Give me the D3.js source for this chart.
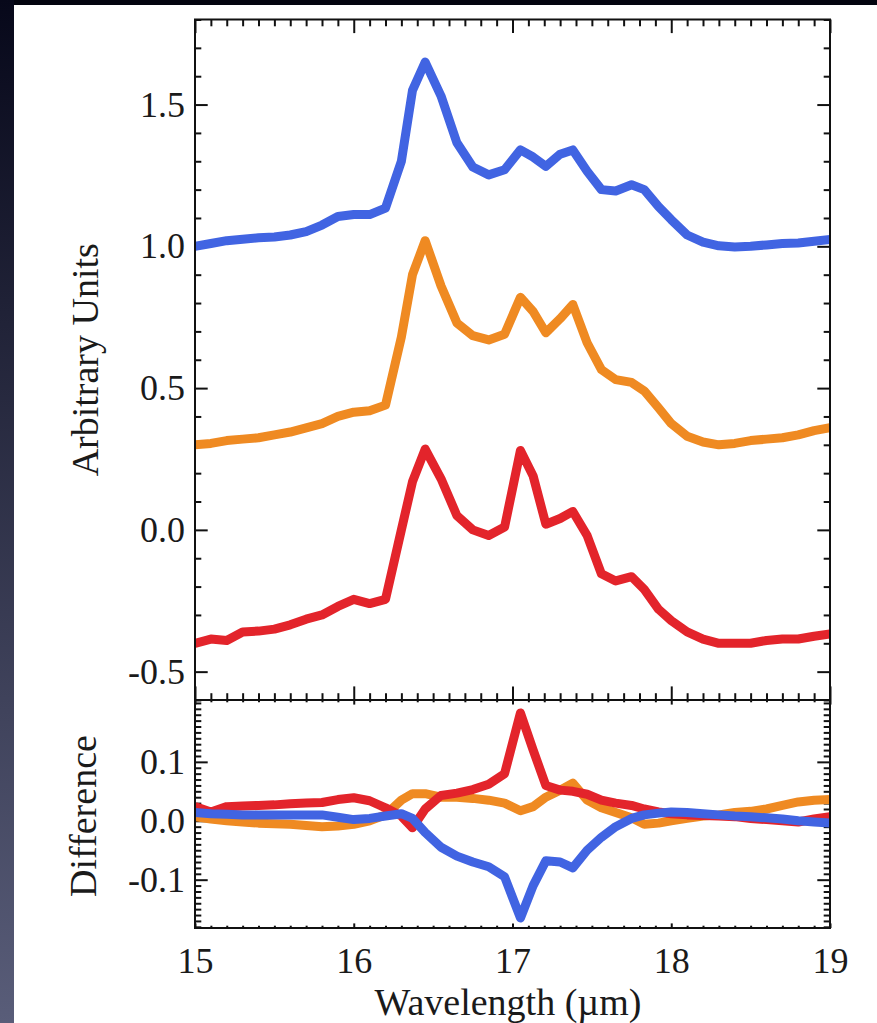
<!DOCTYPE html>
<html>
<head>
<meta charset="utf-8">
<script src="https://cdn.jsdelivr.net/npm/d3@7.9.0/dist/d3.min.js"></script>
<style>
  body { margin: 0; background: #03040f; }
  svg { display: block; }
  text { font-family: "Liberation Serif", "DejaVu Serif", serif; fill: #1a1a1a; }
</style>
</head>
<body>
<svg id="chart" width="877" height="1023"></svg>
<script>
// wavelength grid (micron) shared by every curve
const wavelength = [15.0, 15.1, 15.2, 15.3, 15.4, 15.5, 15.6, 15.7, 15.8, 15.9,
  16.0, 16.1, 16.2, 16.3, 16.37, 16.45, 16.55, 16.65, 16.75, 16.85, 16.95,
  17.05, 17.13, 17.21, 17.3, 17.38, 17.47, 17.56, 17.65, 17.75, 17.83, 17.92,
  18.0, 18.1, 18.2, 18.3, 18.4, 18.5, 18.6, 18.7, 18.8, 18.9, 19.0];

// top panel spectra (offset)
const blueSpec = [1.00, 1.01, 1.02, 1.025, 1.03, 1.033, 1.04, 1.052, 1.075, 1.105,
  1.112, 1.112, 1.135, 1.30, 1.55, 1.65, 1.53, 1.365, 1.28, 1.252, 1.27,
  1.34, 1.315, 1.282, 1.325, 1.34, 1.265, 1.20, 1.195, 1.217, 1.20, 1.14,
  1.094, 1.04, 1.015, 1.002, 0.998, 1.0, 1.005, 1.01, 1.012, 1.018, 1.024];
const orangeSpec = [0.30, 0.305, 0.315, 0.32, 0.325, 0.335, 0.345, 0.36, 0.375, 0.40,
  0.415, 0.42, 0.44, 0.68, 0.90, 1.02, 0.86, 0.73, 0.685, 0.67, 0.69,
  0.82, 0.77, 0.695, 0.745, 0.795, 0.66, 0.565, 0.53, 0.52, 0.49, 0.43,
  0.375, 0.33, 0.31, 0.30, 0.305, 0.315, 0.32, 0.325, 0.335, 0.35, 0.36];
const redSpec = [-0.40, -0.385, -0.39, -0.36, -0.357, -0.35, -0.335, -0.315, -0.30, -0.27,
  -0.245, -0.26, -0.245, 0.0, 0.17, 0.285, 0.18, 0.05, 0.0, -0.02, 0.01,
  0.28, 0.19, 0.02, 0.04, 0.065, -0.02, -0.155, -0.18, -0.165, -0.21, -0.28,
  -0.32, -0.36, -0.385, -0.40, -0.40, -0.40, -0.39, -0.385, -0.385, -0.375, -0.367];

// bottom panel differences
const blueDiff = [0.014, 0.012, 0.011, 0.01, 0.01, 0.01, 0.01, 0.01, 0.01, 0.006,
  0.002, 0.004, 0.008, 0.012, 0.004, -0.02, -0.045, -0.06, -0.07, -0.078, -0.095,
  -0.165, -0.11, -0.068, -0.07, -0.08, -0.05, -0.028, -0.01, 0.004, 0.01, 0.013,
  0.015, 0.014, 0.012, 0.01, 0.008, 0.007, 0.005, 0.003, 0.0, -0.002, -0.004];
const orangeDiff = [0.007, 0.003, 0.0, -0.002, -0.004, -0.005, -0.006, -0.008, -0.01, -0.009,
  -0.006, 0.0, 0.01, 0.035, 0.046, 0.046, 0.04, 0.04, 0.038, 0.035, 0.03,
  0.017, 0.024, 0.04, 0.052, 0.064, 0.035, 0.022, 0.014, 0.005, -0.006, -0.004,
  0.0, 0.004, 0.008, 0.01, 0.014, 0.016, 0.02, 0.026, 0.032, 0.035, 0.036];
const redDiff = [0.024, 0.015, 0.024, 0.025, 0.026, 0.027, 0.029, 0.03, 0.031, 0.036,
  0.039, 0.034, 0.022, 0.008, -0.012, 0.02, 0.043, 0.047, 0.053, 0.062, 0.08,
  0.183, 0.12, 0.06, 0.052, 0.05, 0.045, 0.035, 0.03, 0.026, 0.02, 0.015,
  0.012, 0.01, 0.009, 0.008, 0.007, 0.004, 0.002, 0.0, -0.002, 0.003, 0.007];

const xTicks = [15, 16, 17, 18, 19];
const topYTicks = [-0.5, 0.0, 0.5, 1.0, 1.5];
const diffYTicks = [-0.1, 0.0, 0.1];

const svg = d3.select('#chart');

// dark slide background with lighter strip on the left
const defs = svg.append('defs');
const grad = defs.append('linearGradient').attr('id', 'strip')
  .attr('x1', 0).attr('y1', 0).attr('x2', 0).attr('y2', 1);
grad.append('stop').attr('offset', '0%').attr('stop-color', '#07081a');
grad.append('stop').attr('offset', '100%').attr('stop-color', '#595d79');
svg.append('rect').attr('width', 877).attr('height', 1023).attr('fill', '#03040f');
svg.append('rect').attr('width', 14).attr('height', 1023).attr('fill', 'url(#strip)');
svg.append('rect').attr('x', 14).attr('y', 5).attr('width', 863).attr('height', 1018).attr('fill', '#fff');

const left = 195, right = 830;
const topY0 = 19.5, topY1 = 700, botY1 = 928;

const x = d3.scaleLinear().domain([15, 19]).range([left, right]);
const yTop = d3.scaleLinear().domain([-0.6, 1.8]).range([topY1, topY0]);
const yBot = d3.scaleLinear().domain([-0.182, 0.205]).range([botY1, topY1]);

const minorX = d3.range(150, 191).map(d => d / 10).filter(d => !xTicks.includes(d));
const minorTopY = d3.range(-6, 19).map(d => d / 10).filter(d => !topYTicks.includes(d));
const minorBotY = d3.range(-18, 21).map(d => d / 100).filter(d => !diffYTicks.some(t => Math.abs(t - d) < 1e-9));

const fontSize = 36;

function tickAxis(axisFn, scale, values, size, pos, labels) {
  const ax = axisFn(scale).tickValues(values).tickSize(size).tickSizeOuter(0);
  if (!labels) ax.tickFormat('');
  else ax.tickFormat(labels).tickPadding(labels.pad);
  const g = svg.append('g').attr('transform', pos).call(ax);
  g.select('.domain').remove();
  g.selectAll('line').attr('stroke', '#111').attr('stroke-width', 2);
  g.selectAll('text').style('font-size', fontSize + 'px').attr('fill', '#1a1a1a');
  return g;
}

const yFmt = d => d3.format('.1f')(d).replace('−', '-');
yFmt.pad = 10;
const xFmt = d => d;
xFmt.pad = 19;

// top panel axes
tickAxis(d3.axisLeft, yTop, topYTicks, -12.7, `translate(${left},0)`, yFmt);
tickAxis(d3.axisLeft, yTop, minorTopY, -6.3, `translate(${left},0)`);
tickAxis(d3.axisRight, yTop, topYTicks, -12.7, `translate(${right},0)`);
tickAxis(d3.axisRight, yTop, minorTopY, -6.3, `translate(${right},0)`);
tickAxis(d3.axisTop, x, xTicks, -13.6, `translate(0,${topY0})`);
tickAxis(d3.axisTop, x, minorX, -6.8, `translate(0,${topY0})`);
tickAxis(d3.axisBottom, x, xTicks, -13.6, `translate(0,${topY1})`);
tickAxis(d3.axisBottom, x, minorX, -6.8, `translate(0,${topY1})`);

// bottom panel axes
tickAxis(d3.axisLeft, yBot, diffYTicks, -12.7, `translate(${left},0)`, yFmt);
tickAxis(d3.axisLeft, yBot, minorBotY, -6.3, `translate(${left},0)`);
tickAxis(d3.axisRight, yBot, diffYTicks, -12.7, `translate(${right},0)`);
tickAxis(d3.axisRight, yBot, minorBotY, -6.3, `translate(${right},0)`);
tickAxis(d3.axisTop, x, xTicks, -4.6, `translate(0,${topY1})`);
tickAxis(d3.axisTop, x, minorX, -2.3, `translate(0,${topY1})`);
tickAxis(d3.axisBottom, x, xTicks, -4.6, `translate(0,${botY1})`, xFmt);
tickAxis(d3.axisBottom, x, minorX, -2.3, `translate(0,${botY1})`);

// clip paths for the two panels
defs.append('clipPath').attr('id', 'clipTop').append('rect')
  .attr('x', left).attr('y', topY0).attr('width', right - left).attr('height', topY1 - topY0);
defs.append('clipPath').attr('id', 'clipBot').append('rect')
  .attr('x', left).attr('y', topY1).attr('width', right - left).attr('height', botY1 - topY1);

const colors = { blue: '#4164e2', orange: '#ef8a22', red: '#e3242b' };

function drawCurve(values, yScale, color, clip) {
  const line = d3.line().x((d, i) => x(wavelength[i])).y(d => yScale(d));
  svg.append('path')
    .attr('d', line(values))
    .attr('fill', 'none')
    .attr('stroke', color)
    .attr('stroke-width', 9)
    .attr('stroke-linejoin', 'round')
    .attr('clip-path', `url(#${clip})`);
}

drawCurve(blueSpec, yTop, colors.blue, 'clipTop');
drawCurve(orangeSpec, yTop, colors.orange, 'clipTop');
drawCurve(redSpec, yTop, colors.red, 'clipTop');

drawCurve(orangeDiff, yBot, colors.orange, 'clipBot');
drawCurve(redDiff, yBot, colors.red, 'clipBot');
drawCurve(blueDiff, yBot, colors.blue, 'clipBot');

// panel frames
svg.append('rect').attr('x', left).attr('y', topY0).attr('width', right - left).attr('height', topY1 - topY0)
  .attr('fill', 'none').attr('stroke', '#111').attr('stroke-width', 2);
svg.append('rect').attr('x', left).attr('y', topY1).attr('width', right - left).attr('height', botY1 - topY1)
  .attr('fill', 'none').attr('stroke', '#111').attr('stroke-width', 2);

// axis titles
svg.append('text')
  .attr('transform', `translate(98,${(topY0 + topY1) / 2}) rotate(-90)`)
  .attr('text-anchor', 'middle')
  .style('font-size', '38px')
  .text('Arbitrary Units');
svg.append('text')
  .attr('transform', `translate(96,${(topY1 + botY1) / 2 + 2}) rotate(-90)`)
  .attr('text-anchor', 'middle')
  .style('font-size', '38px')
  .text('Difference');
svg.append('text')
  .attr('x', 508)
  .attr('y', 1015)
  .attr('text-anchor', 'middle')
  .style('font-size', '38px')
  .text('Wavelength (\u00b5m)');
</script>
</body>
</html>
